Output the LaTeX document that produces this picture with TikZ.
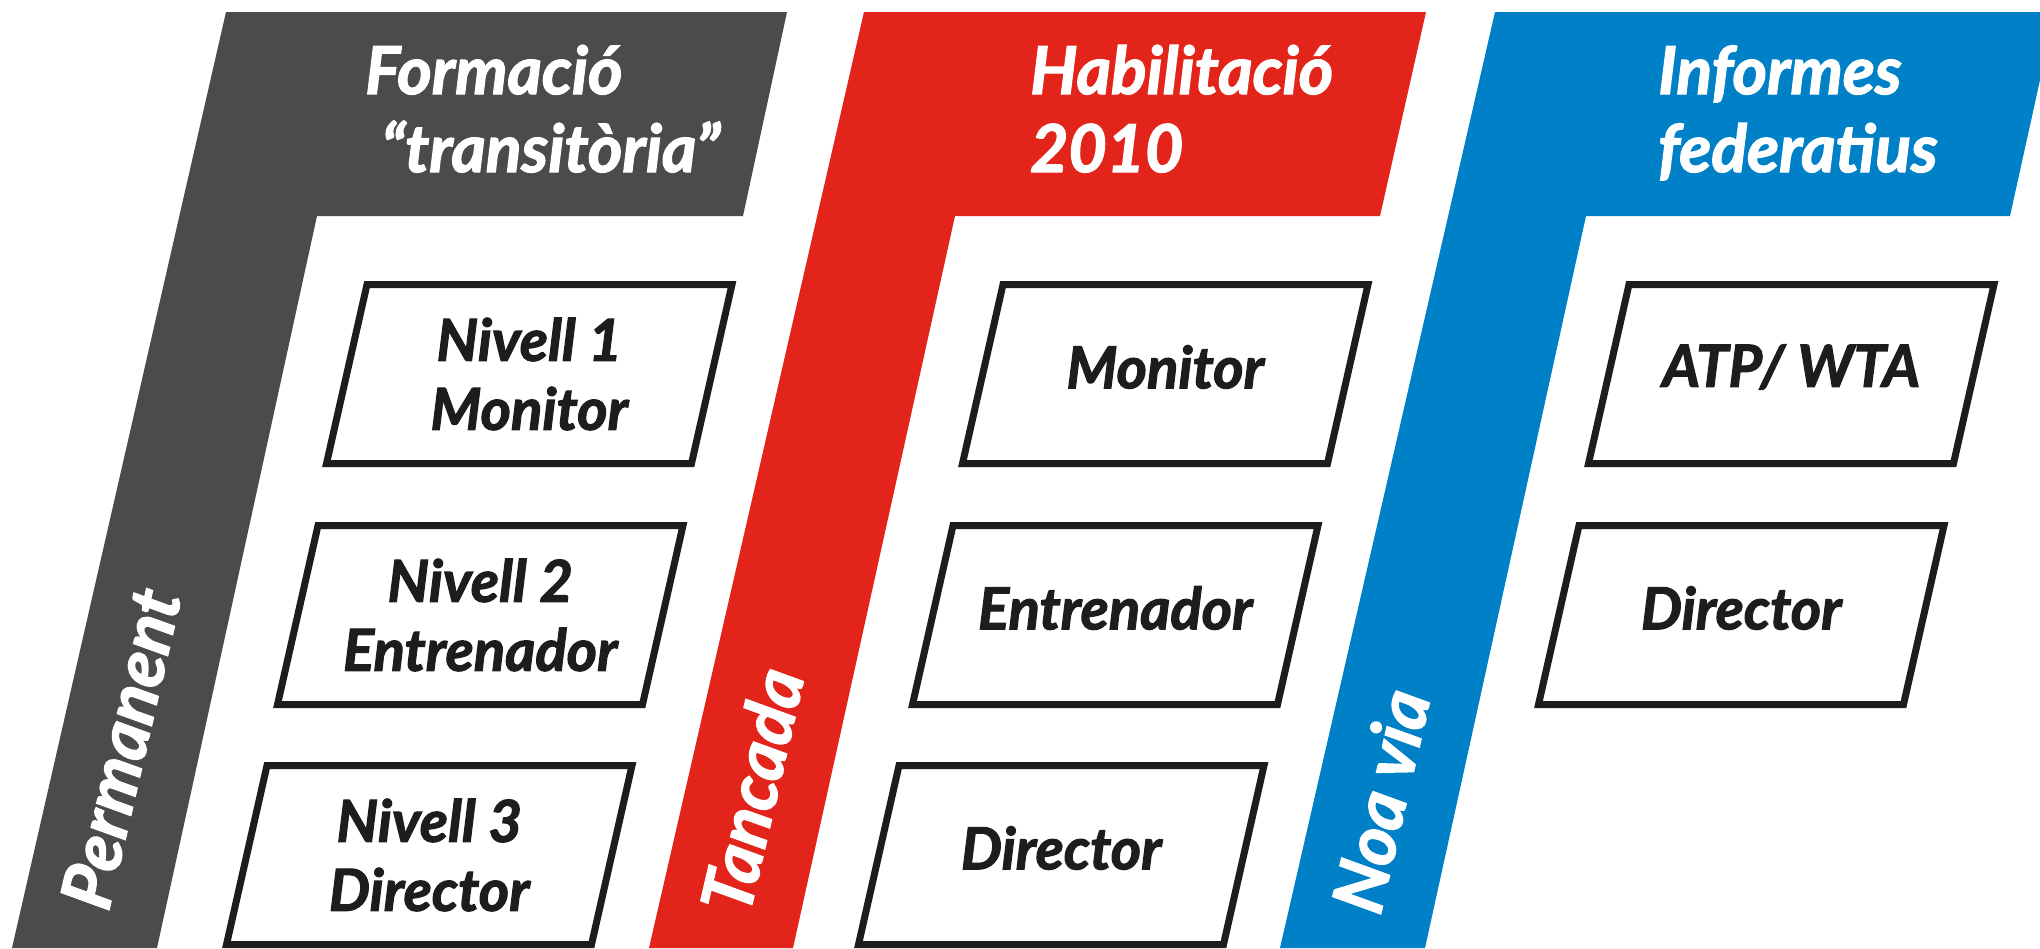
\documentclass[tikz,border=0pt]{standalone}
\usepackage{fontspec}
\setmainfont{Lato}
\newfontfamily\lab{Lato}[BoldItalicFeatures={FakeBold=2}]
\definecolor{bgray}{HTML}{4B4B4B}
\definecolor{bred}{HTML}{E2241B}
\definecolor{bblue}{HTML}{0080C7}
\definecolor{ink}{HTML}{1D1D1B}
\tikzset{
  slab/.style={draw=ink, line width=7pt, fill=white, line join=miter},
  boxtext/.style={font=\lab\bfseries\itshape\fontsize{58}{69}\selectfont, text=ink, align=center, inner sep=0pt},
  headtext/.style={font=\lab\bfseries\itshape\fontsize{66}{78}\selectfont, text=white, align=left, inner sep=0pt, anchor=base west},
  sidetext/.style={font=\lab\bfseries\itshape\fontsize{70}{69}\selectfont, text=white, rotate=77, anchor=west, inner sep=0pt},
}
\newcommand\slantbox[5]{%
  \draw[slab] (#1,#2) -- ++(365,0) -- ++(-40.5,179) -- ++(-365,0) -- cycle;
  \node[boxtext,#5] (#3) at ({#1+162.25},{#2+89.5}) {#4};
}
\begin{document}
\begin{tikzpicture}[x=1pt,y=-1pt]
\useasboundingbox (0,0) rectangle (2040,948);
\fill[white] (0,0) rectangle (2040,948);
\clip (0,0) rectangle (2040,948);
% bands
\fill[bgray] (226,12) -- (787,12) -- (743,216) -- (317,216) -- (157,948) -- (12,948) -- cycle;
\fill[bred] (864,12) -- (1426,12) -- (1380,216) -- (955,216) -- (793,948) -- (649,948) -- cycle;
\fill[bblue] (1495,12) -- (2055,12) -- (2010,216) -- (1586,216) -- (1425,948) -- (1280,948) -- cycle;
% headers (anchor = baseline of the last line)
\node[headtext] (hgray) at (365,172) {Formació\\\hspace*{16pt}“transitòria”};
\node[headtext] (hred) at (1030,172) {Habilitació\\2010};
\node[headtext] (hblue) at (1658,172) {Informes\\federatius};
% side labels
\node[sidetext] (sgray) at (84,907) {Permanent};
\node[sidetext] (sred) at (724,911) {Tancada};
\node[sidetext] (sblue) at (1355,911) {Noa via};
% boxes
\slantbox{367}{284.5}{g1}{Nivell 1\\Monitor}{}
\slantbox{318}{525.5}{g2}{Nivell 2\\Entrenador}{}
\slantbox{267}{765.5}{g3}{Nivell 3\\Director}{}
\slantbox{1003}{284.5}{r1}{Monitor}{yshift=7pt}
\slantbox{953}{525.5}{r2}{Entrenador}{yshift=7pt}
\slantbox{899}{765.5}{r3}{Director}{yshift=7pt}
\slantbox{1629}{284.5}{b1}{ATP/ WTA}{yshift=7pt}
\slantbox{1579}{525.5}{b2}{Director}{yshift=7pt}
\end{tikzpicture}
\end{document}
